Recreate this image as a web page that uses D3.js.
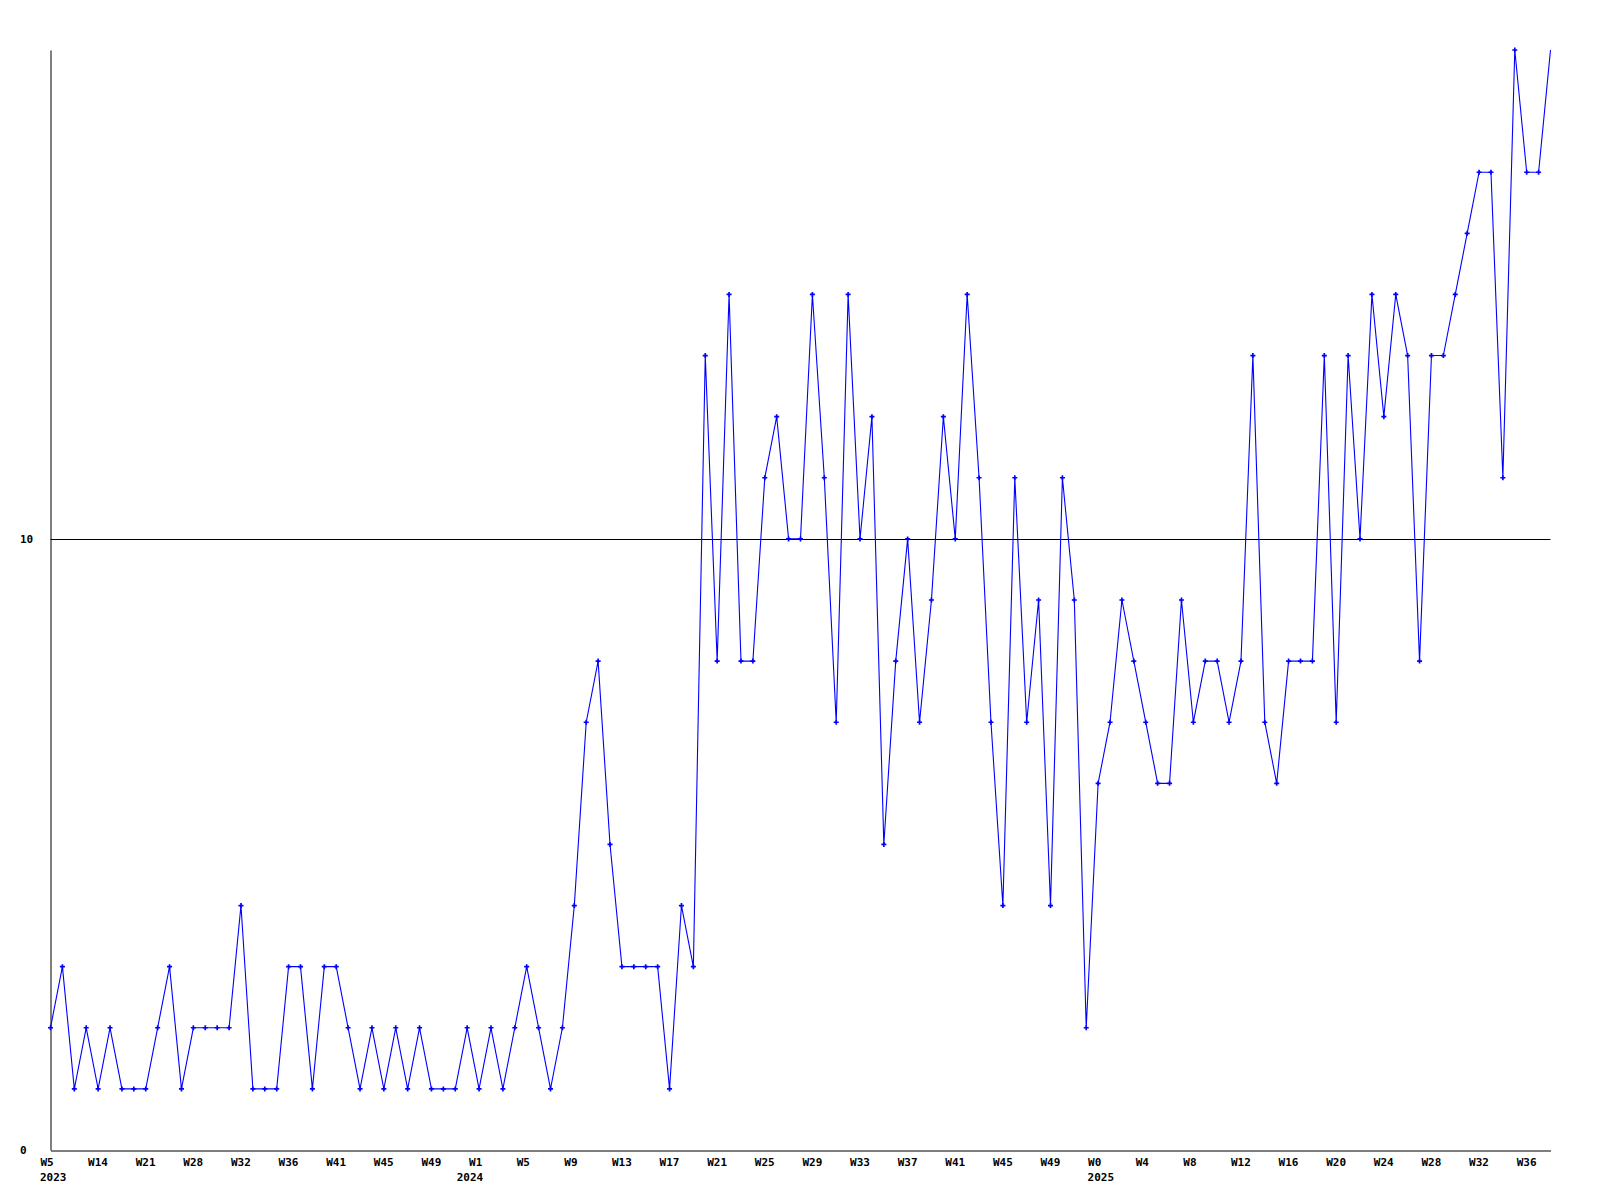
<!DOCTYPE html>
<html>
<head>
<meta charset="utf-8">
<script src="https://cdn.jsdelivr.net/npm/d3@7"></script>
<style>
  body { margin: 0; background: #fff; }
  text { font-family: "DejaVu Sans Mono", monospace; font-weight: bold; font-size: 11px; fill: #000; }
</style>
</head>
<body>
<div id="chart"></div>
<script>

// Data

var values = [
	2, 3, 1, 2, 1, 2, 1, 1, 1, 2, 3, 1, 2, 2, 2, 2, 4, 1, 1, 1,
	3, 3, 1, 3, 3, 2, 1, 2, 1, 2, 1, 2, 1, 1, 1, 2,
	1, 2, 1, 2, 3, 2, 1, 2, 4, 7, 8, 5, 3, 3, 3, 3, 1, 4, 3, 13,
	8, 14, 8, 8, 11, 12, 10, 10, 14, 11, 7, 14, 10, 12, 5, 8, 10, 7,
	9, 12, 10, 14, 11, 7, 4, 11, 7, 9, 4, 11, 9, 2,
	6, 7, 9, 8, 7, 6, 6, 9, 7, 8, 8, 7, 8, 13, 7, 6, 8, 8, 8, 13,
	7, 13, 10, 14, 12, 14, 13, 8, 13, 13, 14, 15, 16, 16, 11, 18, 16, 16, 18
];

var tickLabels = ["W5", "W14", "W21", "W28", "W32", "W36", "W41", "W45", "W49",
	"W1", "W5", "W9", "W13", "W17", "W21", "W25", "W29", "W33", "W37", "W41", "W45", "W49",
	"W0", "W4", "W8", "W12", "W16", "W20", "W24", "W28", "W32", "W36"];
var tickEvery = 4;

var years = ["2023", "2024", "2025"];
var yearStart = [0, 35, 88];   // point index where each year label sits

var yTicks = [0, 10];
var yMax = 18;

// Dimensions

var width = 1600;
var height = 1200;
var plotLeft = 50.5, plotRight = 1550.5, plotTop = 50, plotBottom = 1150;

var svg = d3.select("#chart")
	.append("svg")
	.attr("width", width)
	.attr("height", height);

var x = d3.scaleLinear()
	.domain([0, values.length - 1])
	.range([plotLeft, plotRight]);

var y = d3.scaleLinear()
	.domain([0, yMax])
	.range([plotBottom, plotTop]);

// Grid line at 10

svg.selectAll(".grid")
	.data(yTicks.filter(function (d) { return d > 0; }))
	.enter()
	.append("line")
	.attr("class", "grid")
	.attr("x1", plotLeft)
	.attr("x2", plotRight)
	.attr("y1", function (d) { return Math.round(y(d)) + 0.5; })
	.attr("y2", function (d) { return Math.round(y(d)) + 0.5; })
	.attr("stroke", "#000")
	.attr("stroke-width", 1);

// Axes

var xAxis = d3.axisBottom(x)
	.tickValues(tickLabels.map(function (d, i) { return i * tickEvery; }))
	.tickFormat(function (d) { return tickLabels[d / tickEvery]; })
	.tickSize(0)
	.tickSizeOuter(0);

var gx = svg.append("g")
	.attr("transform", "translate(0," + (plotBottom + 0.5) + ")")
	.call(xAxis)
	.attr("font-family", null)
	.attr("font-size", null);

gx.select(".domain").attr("stroke", "#000");
gx.selectAll("text")
	.attr("text-anchor", "start")
	.attr("x", -10.5)
	.attr("y", 7.5)
	.attr("dy", "0.71em");

var yAxis = d3.axisLeft(y)
	.tickValues(yTicks)
	.tickFormat(d3.format("d"))
	.tickSize(0)
	.tickSizeOuter(0);

var gy = svg.append("g")
	.attr("transform", "translate(" + plotLeft + ",0)")
	.call(yAxis)
	.attr("font-family", null)
	.attr("font-size", null);

gy.select(".domain").attr("stroke", "#000");
gy.selectAll("text")
	.attr("text-anchor", "start")
	.attr("x", 20 - plotLeft);

// Year labels

svg.selectAll(".year")
	.data(years)
	.enter()
	.append("text")
	.attr("class", "year")
	.attr("x", function (d, i) { return x(yearStart[i]) - 10.5; })
	.attr("y", plotBottom + 31)
	.text(function (d) { return d; });

// Series line

var line = d3.line()
	.x(function (d, i) { return x(i); })
	.y(function (d) { return y(d); });

svg.append("path")
	.datum(values)
	.attr("d", line)
	.attr("fill", "none")
	.attr("stroke", "#0000ff")
	.attr("stroke-width", 1.1);

// Markers (last point sits on the frame edge and is not marked)

svg.selectAll(".dot")
	.data(values.slice(0, -1))
	.enter()
	.append("path")
	.attr("class", "dot")
	.attr("d", d3.symbol().type(d3.symbolCross).size(14)())
	.attr("fill", "#0000ff")
	.attr("transform", function (d, i) {
		return "translate(" + x(i) + "," + y(d) + ")";
	});

</script>
</body>
</html>
